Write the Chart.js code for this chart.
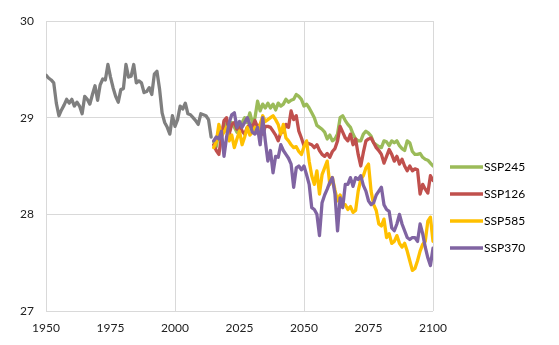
<!DOCTYPE html>
<html>
<head>
<meta charset="utf-8">
<script src="https://cdn.jsdelivr.net/npm/chart.js@4.4.0/dist/chart.umd.min.js"></script>
<style>
  html, body { margin: 0; padding: 0; background: #fff; }
  #wrap { position: relative; width: 559px; height: 345px; }
</style>
</head>
<body>
<div id="wrap"><canvas id="chart" width="559" height="345"></canvas></div>
<script>
// observed series, 1950-2014
const histStart = 1950;
const historical = [
  29.44, 29.41, 29.39, 29.36, 29.15, 29.02, 29.08, 29.13, 29.19, 29.15,
  29.19, 29.12, 29.16, 29.12, 29.04, 29.22, 29.19, 29.14, 29.24, 29.33,
  29.18, 29.34, 29.40, 29.39, 29.55, 29.42, 29.31, 29.22, 29.16, 29.29,
  29.30, 29.55, 29.42, 29.43, 29.55, 29.36, 29.38, 29.36, 29.26, 29.27,
  29.31, 29.24, 29.45, 29.48, 29.30, 29.05, 28.95, 28.90, 28.83, 29.02,
  28.91, 28.98, 29.12, 29.09, 29.15, 29.04, 29.03, 29.00, 28.97, 28.93,
  29.04, 29.03, 29.02, 28.98, 28.80
];

// scenario runs, 2015-2100
const scenStart = 2015;
const ssp245 = [
  28.75, 28.70, 28.85, 28.80, 28.95, 28.90, 28.85, 28.95, 28.90, 28.85,
  28.90, 28.95, 29.00, 28.95, 29.05, 28.95, 29.00, 29.17, 29.07, 29.14,
  29.10, 29.15, 29.10, 29.14, 29.08, 29.15, 29.12, 29.14, 29.19, 29.16,
  29.18, 29.19, 29.24, 29.22, 29.19, 29.12, 29.14, 29.10, 29.05, 29.00,
  28.92, 28.90, 28.88, 28.85, 28.78, 28.82, 28.76, 28.78, 28.83, 29.00,
  29.02, 28.97, 28.93, 28.90, 28.83, 28.78, 28.76, 28.76, 28.83, 28.86,
  28.84, 28.81, 28.74, 28.72, 28.70, 28.69, 28.76, 28.75, 28.71, 28.76,
  28.74, 28.76, 28.71, 28.68, 28.66, 28.76, 28.74, 28.65, 28.62, 28.62,
  28.63, 28.59, 28.57, 28.56, 28.53, 28.50
];
const ssp126 = [
  28.72, 28.66, 28.62, 28.80, 28.97, 29.00, 28.83, 28.93, 28.95, 28.88,
  28.93, 28.86, 28.83, 28.90, 28.93, 28.90, 28.97, 28.90, 28.93, 28.83,
  28.91, 28.91, 28.90, 28.86, 28.82, 28.76, 28.85, 28.85, 28.93, 28.90,
  29.07, 28.98, 29.02, 28.86, 28.79, 28.71, 28.74, 28.73, 28.72, 28.69,
  28.72, 28.66, 28.62, 28.60, 28.63, 28.59, 28.65, 28.68, 28.76, 28.91,
  28.85, 28.79, 28.76, 28.83, 28.72, 28.78, 28.62, 28.50, 28.64, 28.76,
  28.78, 28.79, 28.74, 28.69, 28.66, 28.62, 28.53, 28.60, 28.67, 28.62,
  28.55, 28.60, 28.52, 28.57, 28.50, 28.45, 28.50, 28.45, 28.47, 28.46,
  28.21, 28.31, 28.26, 28.22, 28.40, 28.35
];
const ssp585 = [
  28.69, 28.75, 28.93, 28.81, 28.85, 28.90, 28.76, 28.82, 28.69, 28.78,
  28.86, 28.72, 28.80, 28.90, 28.82, 28.85, 28.90, 28.84, 28.93, 29.02,
  28.96, 28.98, 29.00, 29.02, 28.98, 28.93, 28.83, 28.93, 28.79, 28.76,
  28.72, 28.69, 28.70, 28.65, 28.62, 28.70, 28.76, 28.55, 28.40, 28.31,
  28.45, 28.21, 28.41, 28.48, 28.55, 28.31, 28.38, 28.25, 28.14, 28.20,
  28.10, 28.10, 28.05, 28.08, 28.02, 28.04, 28.24, 28.36, 28.40, 28.48,
  28.52, 28.24, 28.10, 28.04, 27.90, 27.88, 27.95, 27.76, 27.80, 27.70,
  27.72, 27.78, 27.70, 27.66, 27.70, 27.62, 27.52, 27.42, 27.44, 27.52,
  27.62, 27.69, 27.72, 27.93, 27.97, 27.72
];
const ssp370 = [
  28.76, 28.80, 28.78, 28.86, 28.60, 28.80, 28.95, 29.03, 29.05, 28.90,
  28.96, 28.90, 28.95, 29.00, 28.93, 28.85, 28.83, 28.90, 28.72, 29.00,
  28.76, 28.55, 28.66, 28.43, 28.60, 28.59, 28.72, 28.66, 28.62, 28.58,
  28.52, 28.28, 28.48, 28.50, 28.46, 28.50, 28.41, 28.31, 28.07, 28.05,
  28.00, 27.78, 28.12, 28.20, 28.26, 28.33, 28.38, 28.21, 27.83, 28.17,
  28.07, 28.31, 28.31, 28.38, 28.29, 28.38, 28.36, 28.40, 28.30, 28.24,
  28.14, 28.10, 28.12, 28.20, 28.24, 28.28, 28.10, 28.05, 28.03, 27.86,
  27.83, 27.90, 28.00, 27.90, 27.83, 27.76, 27.74, 27.76, 27.76, 27.72,
  27.90, 27.80, 27.66, 27.55, 27.47, 27.65
];

const xTicks = [1950, 1975, 2000, 2025, 2050, 2075, 2100];
const yTicks = [27, 28, 29, 30];

const toPoints = (start, vals) => vals.map((v, i) => ({ x: start + i, y: v }));

const series = [
  { label: 'SSP245', data: ssp245, color: '#9BBB59' },
  { label: 'SSP126', data: ssp126, color: '#C0504D' },
  { label: 'SSP585', data: ssp585, color: '#FFC000' },
  { label: 'SSP370', data: ssp370, color: '#8064A2' }
];

const font = 'Lato, "Noto Sans", sans-serif';

// datasets: first one is drawn on top in Chart.js, so use "order" to put purple on top
const datasets = [{
  label: 'Historical',
  data: toPoints(histStart, historical),
  borderColor: '#7F7F7F',
  order: 5
}].concat(series.map((s, i) => ({
  label: s.label,
  data: toPoints(scenStart, s.data),
  borderColor: s.color,
  order: 4 - i
})));

// legend on the right, drawn by hand so it can sit where Excel put it
const sideLegend = {
  id: 'sideLegend',
  afterDraw(chart) {
    const ctx = chart.ctx;
    ctx.save();
    ctx.font = '12px ' + font;
    ctx.textBaseline = 'middle';
    ctx.fillStyle = '#000';
    series.forEach((s, i) => {
      const y = 167 + i * 27;
      ctx.strokeStyle = s.color;
      ctx.lineWidth = 3.3;
      ctx.beginPath();
      ctx.moveTo(450, y);
      ctx.lineTo(483, y);
      ctx.stroke();
      ctx.fillText(s.label, 484, y + 0.5);
    });
    ctx.restore();
  }
};

new Chart(document.getElementById('chart'), {
  type: 'line',
  data: { datasets },
  options: {
    responsive: false,
    animation: false,
    layout: { padding: { top: 21, right: 126, left: 0, bottom: 0 } },
    elements: {
      line: { borderWidth: 3.3, tension: 0, borderCapStyle: 'round', borderJoinStyle: 'round' },
      point: { radius: 0 }
    },
    plugins: {
      legend: { display: false },
      tooltip: { enabled: false }
    },
    scales: {
      x: {
        type: 'linear',
        min: 1950,
        max: 2100,
        afterFit: s => { s.height = 34; },
        afterBuildTicks: s => { s.ticks = xTicks.map(v => ({ value: v })); },
        grid: {
          color: c => (c.tick && c.tick.value % 50 === 0) ? '#d9d9d9' : 'rgba(0,0,0,0)',
          drawTicks: false
        },
        border: { display: false },
        ticks: {
          padding: 10,
          color: '#222',
          font: { family: font, size: 12 },
          callback: v => String(v)
        }
      },
      y: {
        min: 27,
        max: 30,
        afterFit: s => { s.width = 46; },
        afterBuildTicks: s => { s.ticks = yTicks.map(v => ({ value: v })); },
        grid: { color: '#d9d9d9', drawTicks: false },
        border: { display: false },
        ticks: {
          padding: 12,
          color: '#222',
          font: { family: font, size: 12 },
          callback: v => String(v)
        }
      }
    }
  },
  plugins: [sideLegend]
});
</script>
</body>
</html>
